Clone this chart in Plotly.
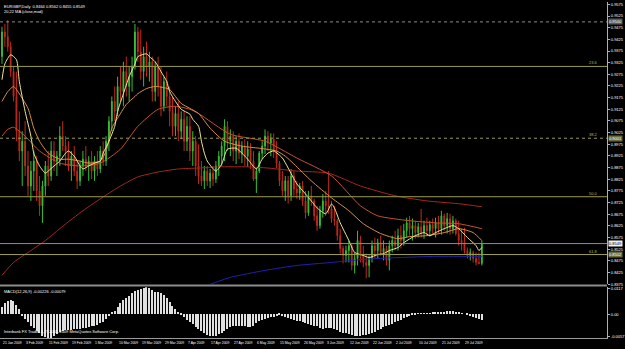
import plotly.graph_objects as go

# ---------------- data ----------------
bars = list(range(167))

open_ = [0.9351,0.9457,0.9436,0.9393,0.9287,0.9180,0.9031,0.8946,0.8988,0.8882,
0.8796,0.8860,0.8903,0.8775,0.8711,0.8796,0.8882,0.8839,0.8946,0.8903,
0.8924,0.9010,0.8967,0.8946,0.8882,0.8924,0.8860,0.8818,0.8882,0.8911,
0.8882,0.8903,0.8860,0.8903,0.8869,0.8946,0.8903,0.8988,0.9074,0.9159,
0.9116,0.9223,0.9201,0.9287,0.9223,0.9265,0.9308,0.9457,0.9372,0.9287,
0.9351,0.9308,0.9329,0.9201,0.9308,0.9223,0.9138,0.9244,0.9180,0.9116,
0.9052,0.9107,0.9031,0.9082,0.8988,0.9052,0.8946,0.8988,0.8882,0.8839,
0.8818,0.8860,0.8818,0.8851,0.8826,0.8882,0.8924,0.8967,0.9052,0.8988,
0.9010,0.8946,0.8988,0.8937,0.8967,0.8924,0.8954,0.8903,0.8826,0.8860,
0.8937,0.8967,0.9010,0.8980,0.8997,0.8946,0.8894,0.8818,0.8775,0.8818,
0.8754,0.8839,0.8783,0.8766,0.8796,0.8732,0.8681,0.8754,0.8732,0.8668,
0.8626,0.8690,0.8732,0.8711,0.8698,0.8656,0.8647,0.8583,0.8528,0.8498,
0.8519,0.8540,0.8455,0.8485,0.8562,0.8498,0.8468,0.8455,0.8485,0.8540,
0.8519,0.8553,0.8511,0.8528,0.8477,0.8540,0.8562,0.8540,0.8583,0.8562,
0.8604,0.8638,0.8613,0.8626,0.8596,0.8621,0.8596,0.8626,0.8604,0.8630,
0.8613,0.8638,0.8613,0.8668,0.8626,0.8656,0.8613,0.8647,0.8592,0.8562,
0.8553,0.8519,0.8498,0.8511,0.8485,0.8468,0.8464]

high = [0.9479,0.9491,0.9508,0.9415,0.9308,0.9287,0.9116,0.9031,0.9074,0.8946,
0.8903,0.8946,0.8924,0.8839,0.8818,0.8903,0.8946,0.8988,0.8988,0.8946,
0.9052,0.9074,0.9010,0.8988,0.8946,0.8967,0.8903,0.8903,0.8946,0.8967,
0.8924,0.8946,0.8924,0.8946,0.8967,0.8988,0.9010,0.9095,0.9180,0.9223,
0.9265,0.9308,0.9329,0.9351,0.9308,0.9351,0.9491,0.9479,0.9466,0.9393,
0.9415,0.9372,0.9351,0.9329,0.9351,0.9308,0.9265,0.9287,0.9223,0.9180,
0.9138,0.9159,0.9116,0.9116,0.9095,0.9095,0.9031,0.9010,0.8975,0.8903,
0.8882,0.8882,0.8869,0.8882,0.8903,0.8946,0.8988,0.9082,0.9074,0.9039,
0.9031,0.9010,0.9022,0.8988,0.8997,0.8988,0.8980,0.8946,0.8873,0.8946,
0.8988,0.9039,0.9031,0.9022,0.9022,0.8988,0.8903,0.8860,0.8839,0.8839,
0.8869,0.8860,0.8818,0.8809,0.8818,0.8775,0.8775,0.8796,0.8741,0.8711,
0.8711,0.8762,0.8775,0.8860,0.8732,0.8711,0.8656,0.8613,0.8540,0.8540,
0.8562,0.8549,0.8511,0.8604,0.8583,0.8540,0.8506,0.8498,0.8562,0.8575,
0.8570,0.8583,0.8562,0.8540,0.8562,0.8583,0.8604,0.8613,0.8626,0.8634,
0.8660,0.8668,0.8656,0.8647,0.8638,0.8698,0.8647,0.8660,0.8647,0.8656,
0.8660,0.8668,0.8690,0.8677,0.8681,0.8677,0.8668,0.8656,0.8647,0.8613,
0.8617,0.8532,0.8528,0.8519,0.8511,0.8511,0.8562]

low = [0.9320,0.9393,0.9372,0.9265,0.9159,0.8988,0.8903,0.8796,0.8839,0.8754,
0.8732,0.8775,0.8732,0.8668,0.8638,0.8754,0.8796,0.8818,0.8860,0.8839,
0.8882,0.8946,0.8882,0.8860,0.8818,0.8839,0.8783,0.8796,0.8839,0.8860,
0.8818,0.8826,0.8818,0.8839,0.8852,0.8882,0.8882,0.8946,0.9031,0.9074,
0.9095,0.9159,0.9138,0.9180,0.9159,0.9201,0.9295,0.9329,0.9252,0.9223,
0.9265,0.9244,0.9159,0.9159,0.9180,0.9095,0.9116,0.9138,0.9052,0.9010,
0.9010,0.8988,0.8997,0.8946,0.8946,0.8903,0.8882,0.8839,0.8805,0.8796,
0.8783,0.8796,0.8787,0.8796,0.8809,0.8839,0.8882,0.8903,0.8946,0.8924,
0.8903,0.8890,0.8911,0.8894,0.8882,0.8878,0.8869,0.8818,0.8766,0.8851,
0.8911,0.8933,0.8946,0.8924,0.8916,0.8873,0.8796,0.8754,0.8732,0.8720,
0.8732,0.8754,0.8741,0.8737,0.8711,0.8656,0.8668,0.8711,0.8647,0.8604,
0.8613,0.8660,0.8668,0.8677,0.8638,0.8626,0.8562,0.8506,0.8464,0.8468,
0.8468,0.8434,0.8421,0.8455,0.8468,0.8447,0.8400,0.8404,0.8468,0.8485,
0.8485,0.8498,0.8477,0.8455,0.8434,0.8511,0.8519,0.8519,0.8528,0.8540,
0.8575,0.8583,0.8562,0.8570,0.8575,0.8575,0.8570,0.8583,0.8579,0.8587,
0.8575,0.8592,0.8587,0.8604,0.8592,0.8587,0.8592,0.8583,0.8540,0.8519,
0.8506,0.8485,0.8477,0.8468,0.8455,0.8460,0.8455]

close = [0.9457,0.9436,0.9393,0.9287,0.9180,0.9031,0.8946,0.8988,0.8882,0.8796,
0.8860,0.8903,0.8775,0.8711,0.8796,0.8882,0.8839,0.8946,0.8903,0.8924,
0.9010,0.8967,0.8946,0.8882,0.8924,0.8860,0.8818,0.8882,0.8911,0.8882,
0.8903,0.8860,0.8903,0.8869,0.8946,0.8903,0.8988,0.9074,0.9159,0.9116,
0.9223,0.9201,0.9287,0.9223,0.9265,0.9308,0.9457,0.9372,0.9287,0.9351,
0.9308,0.9329,0.9201,0.9308,0.9223,0.9138,0.9244,0.9180,0.9116,0.9052,
0.9107,0.9031,0.9082,0.8988,0.9052,0.8946,0.8988,0.8882,0.8839,0.8818,
0.8860,0.8818,0.8851,0.8826,0.8882,0.8924,0.8967,0.9052,0.8988,0.9010,
0.8946,0.8988,0.8937,0.8967,0.8924,0.8954,0.8903,0.8826,0.8860,0.8937,
0.8967,0.9010,0.8980,0.8997,0.8946,0.8894,0.8818,0.8775,0.8818,0.8754,
0.8839,0.8783,0.8766,0.8796,0.8732,0.8681,0.8754,0.8732,0.8668,0.8626,
0.8690,0.8732,0.8711,0.8698,0.8656,0.8647,0.8583,0.8528,0.8498,0.8519,
0.8540,0.8455,0.8485,0.8562,0.8498,0.8468,0.8455,0.8485,0.8540,0.8519,
0.8553,0.8511,0.8528,0.8477,0.8540,0.8562,0.8540,0.8583,0.8562,0.8604,
0.8638,0.8613,0.8626,0.8596,0.8621,0.8596,0.8626,0.8604,0.8630,0.8613,
0.8638,0.8613,0.8668,0.8626,0.8656,0.8613,0.8647,0.8592,0.8562,0.8553,
0.8519,0.8498,0.8511,0.8485,0.8468,0.8464,0.8549]

ma_fast_x = [0,1,3,5,6,8,10,11,13,15,16,18,20,22,23,25,27,28,30,32,34,35,37,39,40,42,44,46,47,50,
             51,53,55,57,58,60,62,65,66,68,69,70,71,74,76,78,81,83,85,88,90,92,94,97,99,102,105,107,109,112,
             114,115,117,120,122,125,127,130,132,134,137,139,143,146,148,150,153,156,158,161,164,165,166]
ma_fast_y = [0.9252,0.9320,0.9359,0.9338,0.9244,0.9116,0.9010,0.8937,0.8882,0.8851,0.8860,0.8882,0.8903,0.8937,0.8946,
             0.8924,0.8882,0.8869,0.8882,0.8894,0.8903,0.8937,0.8988,0.9052,0.9116,0.9192,0.9265,0.9320,0.9351,0.9363,
             0.9351,0.9329,0.9287,0.9244,0.9201,0.9159,0.9125,0.9104,0.9082,0.9052,0.8988,0.8937,0.8903,0.8860,0.8890,
             0.8954,0.8958,0.8937,0.8911,0.8869,0.8911,0.8937,0.8946,0.8916,0.8873,0.8805,0.8762,0.8732,0.8702,0.8677,
             0.8719,0.8702,0.8638,0.8562,0.8511,0.8498,0.8489,0.8502,0.8506,0.8519,0.8532,0.8553,0.8583,0.8596,0.8583,
             0.8596,0.8613,0.8626,0.8613,0.8575,0.8540,0.8519,0.8532]

ma_mid_x = [0,2,4,5,9,11,13,16,20,23,27,30,34,36,38,41,43,46,47,50,53,56,58,60,62,65,68,72,77,83,89,95,98,101,
            107,114,120,125,131,137,141,147,153,158,163,166]
ma_mid_y = [0.9159,0.9201,0.9223,0.9210,0.9129,0.9044,0.8988,0.8937,0.8911,0.8911,0.8903,0.8894,0.8903,0.8946,0.9044,
            0.9107,0.9146,0.9180,0.9192,0.9214,0.9223,0.9218,0.9210,0.9180,0.9150,0.9129,0.9107,0.9044,0.8988,0.8967,
            0.8958,0.8946,0.8924,0.8890,0.8818,0.8745,0.8690,0.8634,0.8592,0.8570,0.8579,0.8583,0.8596,0.8613,0.8596,0.8562]

ma_slow_x = [0,2,4,8,13,20,27,34,41,47,54,60,65,68,79,91,102,114,124,130,141,150,158,166]
ma_slow_y = [0.9010,0.9039,0.9048,0.9010,0.8946,0.8894,0.8882,0.8894,0.8954,0.9052,0.9125,0.9138,0.9125,0.9107,
             0.9018,0.8988,0.8916,0.8839,0.8711,0.8668,0.8647,0.8638,0.8634,0.8613]

ma_long_x = [0,4,10,15,20,27,34,41,47,54,61,68,75,85,92,102,113,124,136,147,158,166]
ma_long_y = [0.8413,0.8468,0.8519,0.8562,0.8613,0.8681,0.8741,0.8796,0.8835,0.8856,0.8869,0.8873,0.8878,0.8878,
             0.8873,0.8860,0.8851,0.8796,0.8754,0.8732,0.8720,0.8707]

ma_blue_x = [51,65,71,79,91,102,114,125,137,150,162,166]
ma_blue_y = [0.8320,0.8349,0.8370,0.8404,0.8434,0.8455,0.8468,0.8481,0.8489,0.8494,0.8494,0.8494]

macd = [0.0027,0.0040,0.0051,0.0053,0.0048,0.0033,0.0020,
        -0.0008,-0.0020,-0.0033,-0.0045,-0.0056,-0.0066,-0.0075,-0.0083,-0.0090,-0.0095,-0.0092,-0.0085,
        -0.0078,-0.0068,-0.0065,-0.0063,-0.0062,-0.0060,-0.0059,-0.0058,-0.0057,-0.0055,-0.0054,-0.0050,
        -0.0048,-0.0045,-0.0041,-0.0036,-0.0030,-0.0019,-0.0008,0.0005,
        0.0012,0.0025,0.0040,0.0052,0.0061,0.0070,0.0080,0.0088,0.0092,0.0096,0.0100,0.0101,0.0097,0.0090,
        0.0084,0.0082,0.0079,0.0072,0.0060,0.0045,0.0030,0.0018,0.0008,
        -0.0003,-0.0012,-0.0022,-0.0030,-0.0040,-0.0050,-0.0058,-0.0064,-0.0073,-0.0079,-0.0083,-0.0085,
        -0.0083,-0.0078,-0.0074,-0.0064,-0.0057,-0.0050,-0.0047,-0.0045,-0.0045,-0.0045,-0.0048,-0.0050,
        -0.0049,-0.0045,-0.0036,-0.0029,-0.0024,-0.0020,-0.0015,-0.0012,-0.0011,-0.0008,-0.0006,
        -0.0010,-0.0013,-0.0016,-0.0019,-0.0022,-0.0026,-0.0028,-0.0033,-0.0036,-0.0037,-0.0042,-0.0045,
        -0.0047,-0.0055,-0.0058,-0.0056,-0.0054,-0.0055,-0.0058,-0.0062,-0.0068,-0.0072,-0.0075,-0.0078,
        -0.0080,-0.0083,-0.0085,-0.0084,-0.0082,-0.0080,-0.0077,-0.0075,-0.0069,-0.0062,-0.0058,-0.0052,
        -0.0048,-0.0043,-0.0038,-0.0032,-0.0027,-0.0023,-0.0017,-0.0013,-0.0008,-0.0005,-0.0002,
        0.0001,0.0002,0.0002,0.0003,0.0003,0.0004,0.0005,0.0006,0.0007,0.0008,0.0009,0.0009,0.0009,
        0.0008,0.0006,0.0003,0.0000,
        -0.0004,-0.0008,-0.0012,-0.0016,-0.0020,-0.0023]

price_ticks = [0.9575,0.9525,0.9475,0.9425,0.9375,0.9325,0.9275,0.9225,0.9175,0.9125,0.9075,0.9025,
               0.8975,0.8925,0.8875,0.8825,0.8775,0.8725,0.8675,0.8625,0.8575,0.8525,0.8475,0.8425,0.8375]
price_tick_text = ["0.9575","0.9525","0.9475","0.9425","0.9375","0.9325","0.9275","0.9225","0.9175","0.9125",
                   "0.9075","0.9025","0.8975","0.8925","0.8875","0.8825","0.8775","0.8725","0.8675","0.8625",
                   "0.8575","0.8525","0.8475","0.8425","0.8375"]
macd_ticks = [0.0099, 0.0, -0.0087]
macd_tick_text = ["0.0117", "0.00", "-0.0057"]

date_bars = [0,8,16,24,32,40,48,56,64,72,80,88,96,104,112,120,128,136,144,152,160]
date_labels = ["21 Jan 2009","3 Feb 2009","11 Feb 2009","19 Feb 2009","1 Mar 2009","10 Mar 2009",
               "19 Mar 2009","29 Mar 2009","7 Apr 2009","17 Apr 2009","27 Apr 2009","6 May 2009",
               "15 May 2009","26 May 2009","3 Jun 2009","12 Jun 2009","22 Jun 2009","2 Jul 2009",
               "10 Jul 2009","21 Jul 2009","29 Jul 2009"]

fib_levels = [0.9309, 0.9001, 0.8750, 0.8502]
fib_names = ["23.6", "38.2", "50.0", "61.8"]
high_line = 0.9500
bid = 0.8549

# ---------------- figure ----------------
FONT = "Liberation Sans Narrow, Liberation Sans"
fig = go.Figure()

fig.add_trace(go.Candlestick(
    x=bars, open=open_, high=high, low=low, close=close,
    increasing=dict(line=dict(color="#36c036", width=1), fillcolor="#36c036"),
    decreasing=dict(line=dict(color="#c02a1a", width=1), fillcolor="#c02a1a"),
    whiskerwidth=0, xaxis="x", yaxis="y", showlegend=False, hoverinfo="skip"))

for xs, ys, col in [(ma_long_x, ma_long_y, "#a3281a"),
                    (ma_blue_x, ma_blue_y, "#2020b0"),
                    (ma_slow_x, ma_slow_y, "#c8502a"),
                    (ma_mid_x, ma_mid_y, "#d89048"),
                    (ma_fast_x, ma_fast_y, "#ece69a")]:
    fig.add_trace(go.Scatter(x=xs, y=ys, mode="lines", line=dict(color=col, width=1, shape="spline", smoothing=0.6),
                             xaxis="x", yaxis="y", showlegend=False, hoverinfo="skip"))

fig.add_trace(go.Bar(x=bars, y=macd, width=0.42, marker=dict(color="#e0e0e0", line=dict(width=0)),
                     xaxis="x2", yaxis="y2", showlegend=False, hoverinfo="skip"))

PLOT_H = 338.0
def py(pix):
    return 1 - pix / PLOT_H

xr = [-0.69, 209.3]
fig.update_layout(
    width=625, height=349,
    margin=dict(l=0, r=14, t=0, b=11),
    paper_bgcolor="black", plot_bgcolor="black",
    bargap=0, boxgap=0.6,
    font=dict(family=FONT, color="white", size=5),
    xaxis=dict(domain=[0, 1], range=xr, showticklabels=False, showgrid=False, zeroline=False,
               rangeslider=dict(visible=False), anchor="y", fixedrange=True),
    xaxis2=dict(domain=[0, 1], range=xr, showticklabels=False, showgrid=False, zeroline=False,
                anchor="y2", showline=True, linecolor="#9a9a9a", linewidth=1),
    yaxis=dict(domain=[py(284), 1], range=[0.83742, 0.95853], side="right", tickvals=price_ticks,
               ticktext=price_tick_text, ticks="outside", ticklen=2, tickcolor="#b0b0b0",
               tickfont=dict(size=4, color="white", family=FONT), showgrid=False, zeroline=False,
               showline=True, linecolor="#b0b0b0", linewidth=1, anchor="x"),
    yaxis2=dict(domain=[0, py(287)], range=[-0.00912, 0.01026], side="right", tickvals=macd_ticks,
                ticktext=macd_tick_text, ticks="outside", ticklen=2, tickcolor="#b0b0b0",
                tickfont=dict(size=4, color="white", family=FONT), showgrid=False, zeroline=False,
                showline=True, linecolor="#b0b0b0", linewidth=1, anchor="x2"),
)

shapes = []
shapes.append(dict(type="line", xref="paper", yref="paper", x0=0, x1=1, y0=py(285.2), y1=py(285.2),
                   line=dict(color="#8c8c8c", width=2)))
shapes.append(dict(type="line", xref="paper", yref="y", x0=0, x1=1, y0=high_line, y1=high_line,
                   line=dict(color="#8a8a8a", width=1, dash="dot")))
shapes.append(dict(type="line", xref="paper", yref="y", x0=0, x1=1, y0=bid, y1=bid,
                   line=dict(color="#8a8a98", width=1)))
for lvl, nm in zip(fib_levels, fib_names):
    shapes.append(dict(type="line", xref="paper", yref="y", x0=0, x1=1, y0=lvl, y1=lvl,
                       line=dict(color="#9c9c4a", width=1, dash="dot" if nm == "38.2" else "solid")))
fig.update_layout(shapes=shapes)

ann = []
ann.append(dict(xref="paper", yref="paper", x=0.004, y=1, xanchor="left", yanchor="top", showarrow=False,
                align="left", text="EURGBP,Daily  0.8464 0.8562 0.8455 0.8549<br>20,22 MA (close,mod)",
                font=dict(size=4, color="white", family=FONT)))
ann.append(dict(xref="paper", yref="paper", x=0.004, y=py(287), xanchor="left", yanchor="top", showarrow=False,
                text="MACD(12,26,9) -0.00226 -0.00079", font=dict(size=4, color="white", family=FONT)))
ann.append(dict(xref="paper", yref="paper", x=0.004, y=py(336), xanchor="left", yanchor="bottom", showarrow=False,
                text="Interbank FX Trader 4, \u00a9 2001-2009 MetaQuotes Software Corp.",
                font=dict(size=4, color="white", family=FONT)))
for b, t in zip(date_bars, date_labels):
    ann.append(dict(xref="x2", yref="paper", x=b, y=0, xanchor="left", yanchor="top", yshift=-1, xshift=-1,
                    showarrow=False, text=t, font=dict(size=3.4, color="white", family=FONT)))
for lvl, nm in zip(fib_levels, fib_names):
    ann.append(dict(xref="paper", yref="y", x=0.988, y=lvl, xanchor="right", yanchor="bottom", showarrow=False,
                    text=nm, font=dict(size=4, color="#b8b860", family=FONT), yshift=-1))
for val, bg, fg in [(high_line, "#5a5a5a", "white"), (fib_levels[1], "#6a6a3a", "white"),
                    (bid, "#f0f0f0", "black"), (fib_levels[3], "#6a6a3a", "white")]:
    ann.append(dict(xref="paper", yref="y", x=1, y=val, xanchor="left", yanchor="middle", xshift=1,
                    showarrow=False, text="%.4f" % val, bgcolor=bg, borderpad=0,
                    font=dict(size=4, color=fg, family=FONT)))
fig.update_layout(annotations=ann)

fig.write_html("out.html")
